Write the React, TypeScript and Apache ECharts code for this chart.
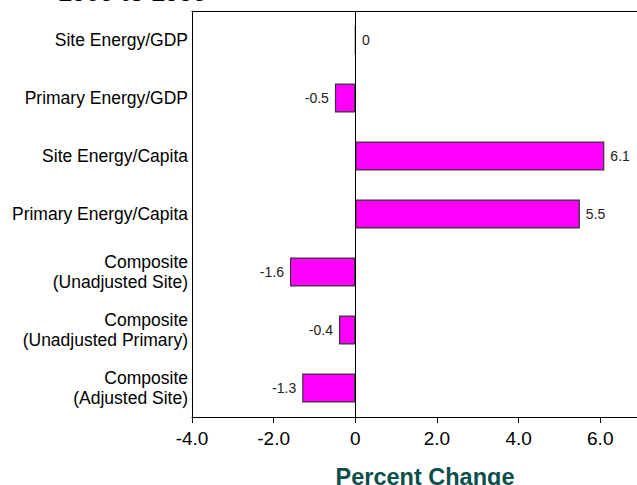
import React, { useEffect, useRef } from "react";
import * as echarts from "echarts";

const categories = [
  "Site Energy/GDP",
  "Primary Energy/GDP",
  "Site Energy/Capita",
  "Primary Energy/Capita",
  "Composite\n(Unadjusted Site)",
  "Composite\n(Unadjusted Primary)",
  "Composite\n(Adjusted Site)",
];
const values = [0, -0.5, 6.1, 5.5, -1.6, -0.4, -1.3];
const titleText = "1985 to 1995";
const axisTitle = "Percent Change";

const FONT = "'Liberation Sans', Arial, Helvetica, sans-serif";

export default function App() {
  const ref = useRef<HTMLDivElement>(null);
  useEffect(() => {
    if (!ref.current) return;
    const chart = echarts.init(ref.current, null, { renderer: "svg" });
    const fmt = (v: number) => {
      if (Math.abs(v % 2) > 1e-9) return "";
      return v === 0 ? "0" : v.toFixed(1);
    };
    chart.setOption({
      animation: false,
      backgroundColor: "#ffffff",
      textStyle: { fontFamily: FONT },
      grid: { left: 192, top: 11, right: 0, bottom: 68, containLabel: false },
      xAxis: [
        {
          type: "value",
          position: "bottom",
          min: -4,
          max: 6.9,
          interval: 2,
          axisLine: { show: true, onZero: false, lineStyle: { color: "#000", width: 1 } },
          axisTick: { show: true, length: 6, lineStyle: { color: "#000" } },
          splitLine: { show: false },
          axisLabel: {
            formatter: fmt,
            color: "#000",
            fontSize: 19,
            fontFamily: FONT,
            margin: 12,
            showMaxLabel: false,
          },
        },
        {
          type: "value",
          position: "top",
          min: -4,
          max: 6.9,
          interval: 2,
          axisLine: { show: true, onZero: false, lineStyle: { color: "#000", width: 1 } },
          axisTick: { show: false },
          splitLine: { show: false },
          axisLabel: { show: false },
        },
      ],
      yAxis: {
        type: "category",
        data: categories,
        inverse: true,
        axisLine: { show: true, onZero: false, lineStyle: { color: "#000", width: 1 } },
        axisTick: { show: false },
        axisLabel: {
          color: "#000",
          fontSize: 17.5,
          fontFamily: FONT,
          lineHeight: 20,
          margin: 4,
          align: "right",
        },
      },
      series: [
        {
          type: "bar",
          data: values.map((v) =>
            v < 0 ? { value: v, label: { position: "left" } } : { value: v }
          ),
          barCategoryGap: "50%",
          itemStyle: { color: "#ff00ff", borderColor: "#333", borderWidth: 1.2 },
          label: {
            show: true,
            fontSize: 14,
            fontFamily: FONT,
            color: "#222",
            distance: 6,
            position: "right",
            formatter: (p: any) => String(p.value),
          },
          markLine: {
            silent: true,
            symbol: ["none", "none"],
            label: { show: false },
            lineStyle: { color: "#000", type: "solid", width: 1 },
            data: [{ xAxis: 0 }],
          },
        },
      ],
      graphic: [
        {
          type: "text",
          x: 58,
          y: 4,
          style: {
            text: titleText,
            font: `bold 25px ${FONT}`,
            fill: "#000",
            verticalAlign: "bottom",
          },
        },
        {
          type: "text",
          x: 425,
          y: 465,
          style: {
            text: axisTitle,
            font: `bold 23.5px ${FONT}`,
            fill: "#0b4f4a",
            align: "center",
            verticalAlign: "top",
          },
        },
      ],
    });
    return () => chart.dispose();
  }, []);
  return (
    <div
      ref={ref}
      style={{ position: "fixed", left: 0, top: 0, width: 637, height: 485 }}
    />
  );
}
